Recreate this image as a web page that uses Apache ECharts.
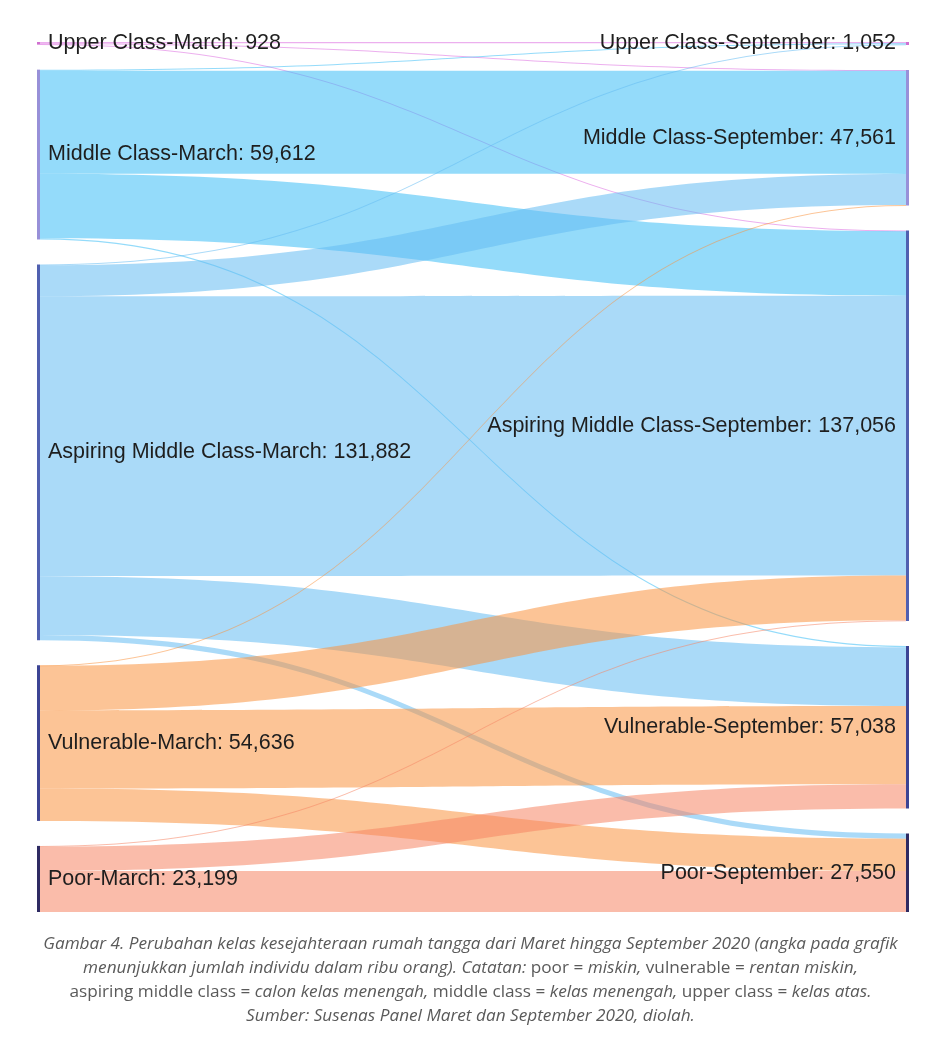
<!DOCTYPE html>
<html>
<head>
<meta charset="utf-8">
<script src="https://cdn.jsdelivr.net/npm/echarts@6/dist/echarts.min.js"></script>
<style>
html,body{margin:0;padding:0;background:#fff;}
#chart{width:941px;height:1047px;}
</style>
</head>
<body>
<div id="chart"></div>
<script>
// Node names
const marchNodes = ['Upper Class-March', 'Middle Class-March', 'Aspiring Middle Class-March', 'Vulnerable-March', 'Poor-March'];
const septNodes = ['Upper Class-September', 'Middle Class-September', 'Aspiring Middle Class-September', 'Vulnerable-September', 'Poor-September'];
// Node totals (thousand persons)
const marchValues = [928, 59612, 131882, 54636, 23199];
const septValues = [1052, 47561, 137056, 57038, 27550];
// Flows from each March class to September classes (Upper, Middle, Aspiring, Vulnerable, Poor)
const flowUpper = [400, 300, 228, 0, 0];
const flowMiddle = [400, 36161, 22651, 400, 0];
const flowAspiring = [252, 10900, 98230, 20700, 1800];
const flowVulnerable = [0, 200, 15647, 27453, 11336];
const flowPoor = [0, 0, 300, 8485, 14414];
const flows = [flowUpper, flowMiddle, flowAspiring, flowVulnerable, flowPoor];

// Styling (not data)
const linkColors = ['#dc6ee0', '#3cbef5', '#64bcf2', '#f99440', '#f68564'];
const nodeColors = ['#d070d0', '#9890d8', '#5060b0', '#3c4494', '#2e2a62'];

const labelFmt = p => p.name + ': ' + Number(p.value).toLocaleString('en-US');
const nodes = [];
marchNodes.forEach((n, i) => nodes.push({
  name: n, value: marchValues[i], itemStyle: {color: nodeColors[i]},
  label: {position: 'right', distance: 8}
}));
septNodes.forEach((n, i) => nodes.push({
  name: n, value: septValues[i], itemStyle: {color: nodeColors[i]},
  label: {position: 'left', distance: 10}
}));
const links = [];
flows.forEach((row, i) => row.forEach((v, j) => {
  if (v > 0) links.push({source: marchNodes[i], target: septNodes[j], value: v,
    lineStyle: {color: linkColors[i], opacity: 0.55}});
}));

const capFont = {fontFamily: 'Open Sans', fontSize: 17.2, color: '#5a5a5a'};
const rich = {
  i: Object.assign({fontStyle: 'italic'}, capFont),
  n: Object.assign({fontStyle: 'normal'}, capFont)
};
const captionLines = [
  '{i|Gambar 4. Perubahan kelas kesejahteraan rumah tangga dari Maret hingga September 2020 (angka pada grafik}',
  '{i|menunjukkan jumlah individu dalam ribu orang). Catatan: }{n|poor =}{i| miskin, }{n|vulnerable =}{i| rentan miskin,}',
  '{n|aspiring middle class =}{i| calon kelas menengah, }{n|middle class =}{i| kelas menengah, }{n|upper class =}{i| kelas atas.}',
  '{i|Sumber: Susenas Panel Maret dan September 2020, diolah.}'
];

const chart = echarts.init(document.getElementById('chart'), null, {renderer: 'canvas'});
chart.setOption({
  animation: false,
  backgroundColor: '#ffffff',
  series: [{
    type: 'sankey',
    left: 37, right: 32, top: 42, bottom: 135,
    nodeWidth: 3,
    nodeGap: 25,
    layoutIterations: 0,
    draggable: false,
    emphasis: {disabled: true},
    data: nodes,
    links: links,
    lineStyle: {curveness: 0.5},
    label: {
      show: true, color: '#1e1e1e', fontSize: 21.5,
      fontFamily: 'Liberation Sans, Arial, sans-serif',
      formatter: labelFmt
    }
  }],
  graphic: captionLines.map((t, i) => ({
    type: 'text', left: 'center', top: 936 + i * 24, silent: true,
    style: {text: t, rich: rich, align: 'center', fontFamily: 'Open Sans', fontSize: 17.2, fill: '#5a5a5a'}
  }))
});
</script>
</body>
</html>
